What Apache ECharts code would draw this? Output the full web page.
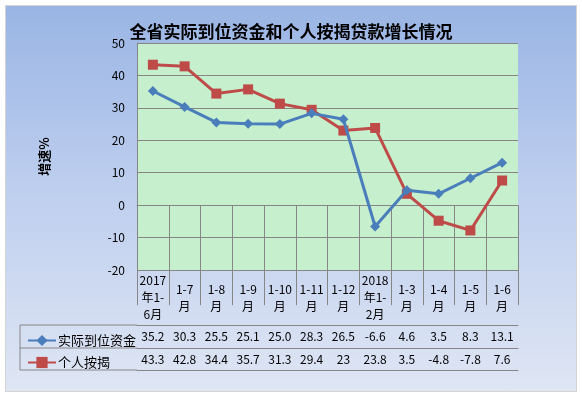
<!DOCTYPE html>
<html><head><meta charset="utf-8">
<script src="https://cdn.jsdelivr.net/npm/echarts@6/dist/echarts.min.js"></script>
<style>
html,body{margin:0;padding:0;background:#fff;}
#bg{position:absolute;left:5px;top:5px;width:570px;height:385px;border:1px solid #d4d4d4;background:linear-gradient(to bottom,#9ab5e4 0%,#bccdee 45%,#dfe6f4 100%);}
#c{position:absolute;left:0;top:0;width:582px;height:396px;}
</style></head>
<body><div id="bg"></div><div id="c"></div>
<script>
const categories = ['2017\n年1-\n6月','1-7\n月','1-8\n月','1-9\n月','1-10\n月','1-11\n月','1-12\n月','2018\n年1-\n2月','1-3\n月','1-4\n月','1-5\n月','1-6\n月'];
const seriesNames = ['实际到位资金','个人按揭'];
const fundValues = [35.2,30.3,25.5,25.1,25.0,28.3,26.5,-6.6,4.6,3.5,8.3,13.1];
const mortgageValues = [43.3,42.8,34.4,35.7,31.3,29.4,23,23.8,3.5,-4.8,-7.8,7.6];
const fundLabels = ['35.2','30.3','25.5','25.1','25.0','28.3','26.5','-6.6','4.6','3.5','8.3','13.1'];
const mortgageLabels = ['43.3','42.8','34.4','35.7','31.3','29.4','23','23.8','3.5','-4.8','-7.8','7.6'];
const yTicks = {min:-20, max:50, interval:10};

const GL=137, GR=518, GT=43, GB=270;
const ROW1=325, ROW2=348, ROW3=370, LEGL=20;
const lineC='#868686';
const chart = echarts.init(document.getElementById('c'));
const font = '"Noto Sans CJK SC", sans-serif';
function hline(y){return {type:'line',shape:{x1:LEGL,y1:y,x2:GL,y2:y},style:{stroke:lineC,lineWidth:1},z:100};}
chart.setOption({
  backgroundColor:'transparent',
  textStyle:{fontFamily:font},
  title:{text:'全省实际到位资金和个人按揭贷款增长情况',left:'center',top:18,textStyle:{fontSize:17,fontWeight:'bold',color:'#000',fontFamily:font}},
  grid:{left:GL,right:582-GR,top:GT,bottom:396-GB,show:true,backgroundColor:'#c6efce',borderWidth:0},
  legend:{orient:'vertical',left:LEGL+2,top:ROW1+4,itemWidth:28,itemHeight:14,itemGap:9,data:seriesNames,textStyle:{fontSize:13,color:'#000',fontFamily:font,padding:[0,0,0,-3]}},
  xAxis:[
    {type:'category',data:categories,position:'bottom',boundaryGap:true,
     axisLine:{show:true,lineStyle:{color:lineC}},
     axisTick:{show:true,interval:0,length:ROW3-GB,lineStyle:{color:lineC}},
     axisLabel:{interval:0,margin:(ROW1-GB)/2,verticalAlign:'middle',lineHeight:17,fontSize:12,color:'#000',fontFamily:font}},
    {type:'category',data:fundLabels,position:'bottom',offset:ROW1-GB,gridIndex:0,
     axisLine:{show:true,lineStyle:{color:lineC}},axisTick:{show:false},
     axisLabel:{interval:0,margin:(ROW2-ROW1)/2,verticalAlign:'middle',fontSize:12,color:'#000',fontFamily:font}},
    {type:'category',data:mortgageLabels,position:'bottom',offset:ROW2-GB,gridIndex:0,
     axisLine:{show:true,lineStyle:{color:lineC}},axisTick:{show:false},
     axisLabel:{interval:0,margin:(ROW3-ROW2)/2,verticalAlign:'middle',fontSize:12,color:'#000',fontFamily:font}},
    {type:'category',data:categories,position:'bottom',offset:ROW3-GB,gridIndex:0,
     axisLine:{show:true,lineStyle:{color:lineC}},axisTick:{show:false},axisLabel:{show:false}}
  ],
  yAxis:{type:'value',min:yTicks.min,max:yTicks.max,interval:yTicks.interval,
    name:'增速%',nameLocation:'middle',nameGap:86,nameTextStyle:{fontSize:13,fontWeight:'bold',color:'#000',fontFamily:font},
    axisLine:{show:true,lineStyle:{color:lineC}},axisTick:{show:false},
    splitLine:{show:true,lineStyle:{color:lineC,width:1}},
    axisLabel:{margin:12,fontSize:12,color:'#000'}},
  graphic:[hline(ROW1),hline(ROW2),hline(ROW3),
    {type:'line',shape:{x1:LEGL,y1:ROW1,x2:LEGL,y2:ROW3},style:{stroke:lineC,lineWidth:1},z:100}],
  series:[
    {name:seriesNames[0],type:'line',data:fundValues,xAxisIndex:0,symbol:'diamond',symbolSize:10,
     itemStyle:{color:'#4a7ebb'},lineStyle:{width:3,color:'#4a7ebb'},z:3},
    {name:seriesNames[1],type:'line',data:mortgageValues,xAxisIndex:0,symbol:'rect',symbolSize:10,
     itemStyle:{color:'#be4b48'},lineStyle:{width:3,color:'#be4b48'},z:2}
  ]
});
</script></body></html>
